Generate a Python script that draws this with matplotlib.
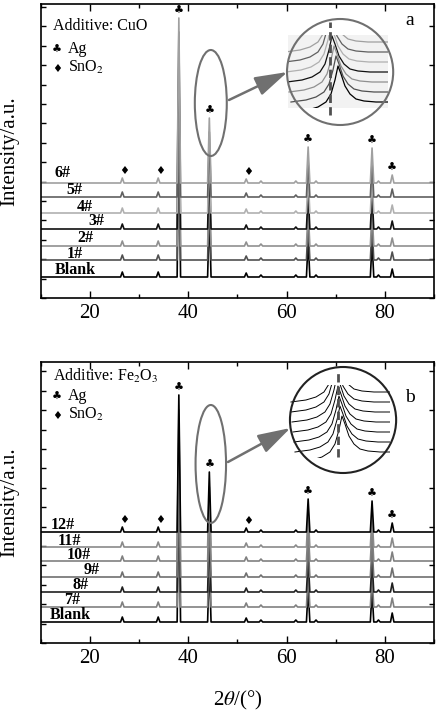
import matplotlib
matplotlib.use('Agg')
import matplotlib.pyplot as plt
from matplotlib.patches import Ellipse
from matplotlib.ticker import MultipleLocator

plt.rcParams['font.family'] = ['Liberation Serif', 'DejaVu Sans']
plt.rcParams['mathtext.fontset'] = 'stix'

# ---- data (intensity in arbitrary units) ----
peak_pos = [26.6, 33.9, 38.1, 44.3, 51.8, 54.8, 61.9, 64.4, 66.0, 77.4, 78.7, 81.5]
heights_a = [5, 5, 165, 65, 4, 2, 2, 36, 2, 35, 2, 8]
heights_b = [5, 5, 137, 60, 4, 2, 2, 33, 2, 31, 2, 9]

names_a = ['Blank', '1#', '2#', '3#', '4#', '5#', '6#']
offsets_a = [21, 38, 52, 69, 85, 101, 115]
colors_a = ['#000000', '#505050', '#909090', '#101010', '#b0b0b0', '#606060', '#a0a0a0']

names_b = ['Blank', '7#', '8#', '9#', '10#', '11#', '12#']
offsets_b = [21, 36, 51, 66, 82, 96, 111]
colors_b = ['#000000', '#808080', '#202020', '#707070', '#808080', '#8a8a8a', '#000000']

ag_peaks = [38.1, 44.3, 64.4, 77.4, 81.5]
sno2_peaks = [26.6, 33.9, 51.8]

# label anchor (x in 2theta, y in intensity units)
label_x_a = [12.9, 15.3, 17.4, 19.6, 17.4, 15.3, 12.9]
label_y_a = [28, 44, 60, 77, 91, 108, 125]
label_x_b = [11.9, 14.7, 16.4, 18.8, 15.3, 13.5, 12.1]
label_y_b = [28, 43, 58, 73, 88, 102, 118]

# magnified (111) peak profile in the insets
prof_dx = [-45, -30, -20, -12, -7, -3, 0, 3, 7, 12, 18, 26, 38, 60]
prof_dy = [-10, -8, -5, 0, 8, 22, 36, 28, 16, 8, 3, 1, 0, 0]
inset_base = [66, 56, 46, 36, 26, 16, 6]
inset_ctr_a = [42, 42, 43, 44, 46, 48, 50]
inset_ctr_b = [46, 46, 47, 48, 49, 50, 52]


def pattern(heights, off):
    xs, ys = [10], [off]
    for p, h in zip(peak_pos, heights):
        xs += [p - 0.35, p, p + 0.35]
        ys += [off, off + h, off]
    xs.append(90)
    ys.append(off)
    return xs, ys


fig = plt.figure(figsize=(4.36, 7.15), dpi=100)
W, H = 436, 715
ax_a = fig.add_axes([40.7 / W, 1 - 298 / H, 393.3 / W, 294 / H])
ax_b = fig.add_axes([40.7 / W, 1 - 643 / H, 393.3 / W, 281 / H])

panels = [
    (ax_a, heights_a, names_a, offsets_a, colors_a, label_x_a, label_y_a,
     'Additive: CuO', 'a', 294, (26, 49, 68, 16),
     (44.6, 195, 6.5, 106), (70.9, 226), (60.3, 190), 68.8, (183, 276),
     ((48.3, 198), (60.2, 226)), '#f2f2f2', '#707070', inset_ctr_a, colors_a[::-1], 0.9),
    (ax_b, heights_b, names_b, offsets_b, colors_b, label_x_b, label_y_b,
     r'Additive: Fe$_2$O$_3$', 'b', 281, (19, 38, 57, 36),
     (44.6, 179, 6.2, 118), (71.5, 223), (60.7, 185), 70.5, (186, 271),
     ((48.1, 181), (60.8, 215)), 'white', '#222222', inset_ctr_b, ['#000000'] * 7, 0.7),
]

for (ax, hts, names, offs, cols, lx, ly, title, tag, ytop, txt_y,
     ell, circ, rect0, dash_x, dash_y, arr, rect_fc, circ_ec, ictr, icols, ilw) in panels:
    for nm, off, c, tx, ty in zip(names, offs, cols, lx, ly):
        xs, ys = pattern(hts, off)
        ax.plot(xs, ys, color=c, lw=1.2)
        ax.text(tx, ty, nm, fontsize=11.5, fontweight='bold', va='center', ha='left')
    top = offs[-1]
    for p in ag_peaks:
        h = hts[peak_pos.index(p)]
        ax.text(p, top + h + 7, '\u2663', family='DejaVu Sans', fontsize=8,
                ha='center', va='center')
    for p in sno2_peaks:
        h = hts[peak_pos.index(p)]
        ax.text(p + 0.4, top + h + 7, '\u2666', family='DejaVu Sans', fontsize=8,
                ha='center', va='center')

    ax.set_xlim(10, 90)
    ax.set_ylim(0, ytop)
    ax.xaxis.set_major_locator(MultipleLocator(20))
    ax.xaxis.set_minor_locator(MultipleLocator(10))
    ax.yaxis.set_major_locator(MultipleLocator(38.8))
    ax.yaxis.set_minor_locator(MultipleLocator(19.4))
    ax.tick_params(which='both', direction='in', top=True, right=True,
                   labelleft=False, labelsize=15, pad=4, width=1)
    ax.tick_params(axis='x', which='major', length=5)
    ax.tick_params(axis='x', which='minor', length=3)
    ax.tick_params(axis='y', which='both', length=3.5)
    ax.tick_params(axis='y', which='minor', right=False)
    for s in ax.spines.values():
        s.set_linewidth(1.2)
    ax.set_ylabel('Intensity/a.u.', fontsize=15)
    ax.yaxis.set_label_coords(-0.055, 0.5)

    # legend-like notes, y given in pixels below the top spine
    ty0, ty1, ty2, tyt = [1 - v / ytop for v in txt_y]
    ax.text(0.031, ty0, title, transform=ax.transAxes, va='baseline', fontsize=11.5)
    ax.text(0.041, ty1, '\u2663', transform=ax.transAxes, va='baseline',
            ha='center', family='DejaVu Sans', fontsize=8)
    ax.text(0.069, ty1, 'Ag', transform=ax.transAxes, va='baseline', fontsize=11.5)
    ax.text(0.041, ty2, '\u2666', transform=ax.transAxes, va='baseline',
            ha='center', family='DejaVu Sans', fontsize=8)
    ax.text(0.069, ty2, r'SnO$_2$', transform=ax.transAxes, va='baseline', fontsize=11.5)
    ax.text(0.939, tyt, tag, transform=ax.transAxes, va='center', ha='center', fontsize=14)

    # zoom callout
    ax.add_patch(Ellipse(ell[:2], ell[2], ell[3], fill=False, ec='#707070', lw=1.5, zorder=6))
    ax.add_patch(Ellipse(circ, 21.6, 106, fill=False, ec=circ_ec, lw=1.5, zorder=6))
    ax.annotate('', xy=arr[1], xytext=arr[0],
                arrowprops=dict(arrowstyle='-|>,head_length=1.0,head_width=0.3',
                                mutation_scale=20, color='#707070', lw=1.8,
                                shrinkA=0, shrinkB=0), zorder=6)
    ins = ax.inset_axes([rect0[0], rect0[1], 100 / 4.916, 73], transform=ax.transData)
    ins.set_facecolor(rect_fc)
    ins.set_xlim(0, 100)
    ins.set_ylim(0, 73)
    ins.set_xticks([])
    ins.set_yticks([])
    for s in ins.spines.values():
        s.set_visible(False)
    for b, cx, c in zip(inset_base, ictr, icols):
        ins.plot([cx + d for d in prof_dx], [b + d for d in prof_dy], color=c, lw=ilw)
    ax.plot([dash_x, dash_x], dash_y, ls=(0, (3, 1.5)), color='#505050', lw=2, zorder=7)

ax_b.set_xlabel(r'2$\theta$/(°)', fontsize=15)
ax_b.xaxis.set_label_coords(0.5, -0.165)

fig.savefig('out.png', dpi=100)
